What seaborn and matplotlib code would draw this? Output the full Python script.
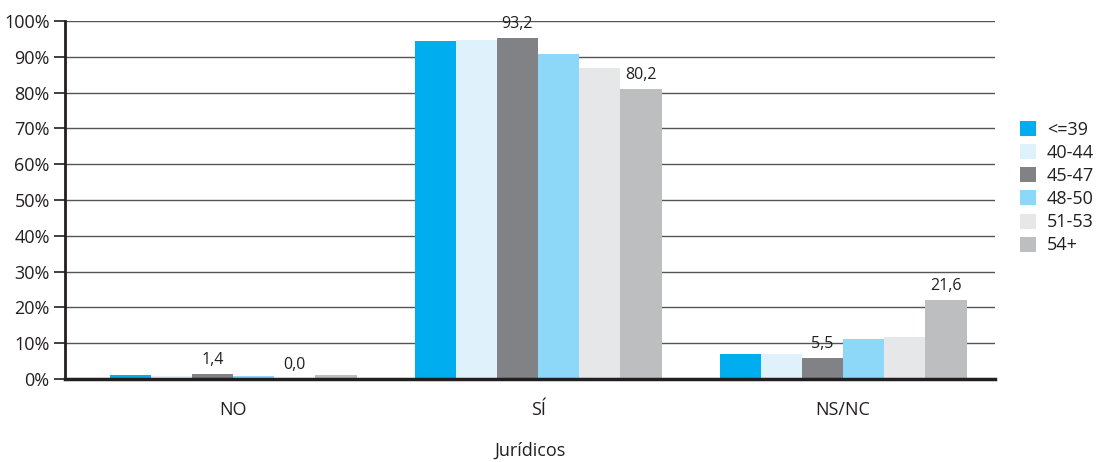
import matplotlib
matplotlib.use("Agg")
import matplotlib.pyplot as plt
import seaborn as sns
import pandas as pd

categories = ["NO", "SÍ", "NS/NC"]
age_groups = ["<=39", "40-44", "45-47", "48-50", "51-53", "54+"]
# bar heights (%) per age group, in category order
v_39 = [1.1, 94.4, 7.0]
v_40_44 = [0.9, 94.7, 7.0]
v_45_47 = [1.4, 95.3, 5.9]
v_48_50 = [0.7, 90.8, 11.2]
v_51_53 = [0.0, 86.9, 11.7]
v_54 = [1.1, 81.0, 22.1]
# data labels shown in the chart: (category, age group, text)
labels = [("NO", "45-47", "1,4"), ("NO", "51-53", "0,0"),
          ("SÍ", "45-47", "93,2"), ("SÍ", "54+", "80,2"),
          ("NS/NC", "45-47", "5,5"), ("NS/NC", "54+", "21,6")]
colors = ["#00AEEF", "#DFF2FB", "#808285", "#8DD8F8", "#E6E7E8", "#BCBEC0"]
yticks = [0, 10, 20, 30, 40, 50, 60, 70, 80, 90, 100]

series = [v_39, v_40_44, v_45_47, v_48_50, v_51_53, v_54]
rows = []
for g, vals in zip(age_groups, series):
    for c, v in zip(categories, vals):
        rows.append({"cat": c, "age": g, "val": v})
df = pd.DataFrame(rows)

sns.set_theme(style="white")
plt.rcParams["font.family"] = ["Open Sans", "DejaVu Sans"]

BW = 0.81
fig = plt.figure(figsize=(11.03, 4.62), dpi=100)
ax = fig.add_axes([65 / 1103, 83 / 462, 930 / 1103, 358 / 462])

sns.barplot(data=df, x="cat", y="val", hue="age", order=categories,
            hue_order=age_groups, palette=colors, saturation=1,
            width=BW, gap=0, linewidth=0, ax=ax, legend=True, zorder=3)

ax.set_ylim(0, 100)
ax.set_xlim(-0.551, 2.498)
ax.set_yticks(yticks)
ax.set_yticklabels([f"{t}%" for t in yticks], fontsize=13, color="#231F20")
ax.yaxis.grid(True, color="#555555", linewidth=1.0, zorder=0)
ax.set_axisbelow(True)
ax.tick_params(axis="y", length=8, width=1.2, color="#231F20", left=True, pad=3)
ax.tick_params(axis="x", length=0, labelsize=13, labelcolor="#231F20", pad=16)
for s in ["top", "right"]:
    ax.spines[s].set_visible(False)
ax.spines["left"].set_color("#231F20")
ax.spines["left"].set_linewidth(2)
ax.spines["bottom"].set_color("#231F20")
ax.spines["bottom"].set_linewidth(2.5)
ax.spines["bottom"].set_zorder(5)
ax.set_ylabel("")
ax.set_xlabel("Jurídicos", fontsize=13, color="#231F20", labelpad=16)

# data labels
n = len(age_groups)
bw = BW / n
for c, g, txt in labels:
    ci = categories.index(c)
    gi = age_groups.index(g)
    x = ci - BW / 2 + bw * (gi + 0.5)
    val = df[(df.cat == c) & (df.age == g)].val.iloc[0]
    ax.annotate(txt, (x, val), xytext=(0, 4), textcoords="offset points",
                ha="center", va="bottom", fontsize=11.5, color="#231F20")

handles, lbls = ax.get_legend_handles_labels()
ax.get_legend().remove()
fig.legend(handles, lbls, loc="upper left", bbox_to_anchor=(1011 / 1103, 1 - 112 / 462),
           frameon=False, fontsize=13, handlelength=0.9, handleheight=0.9,
           labelspacing=0.28, handletextpad=0.6, borderpad=0, labelcolor="#231F20")

fig.savefig("out.png", dpi=100)
